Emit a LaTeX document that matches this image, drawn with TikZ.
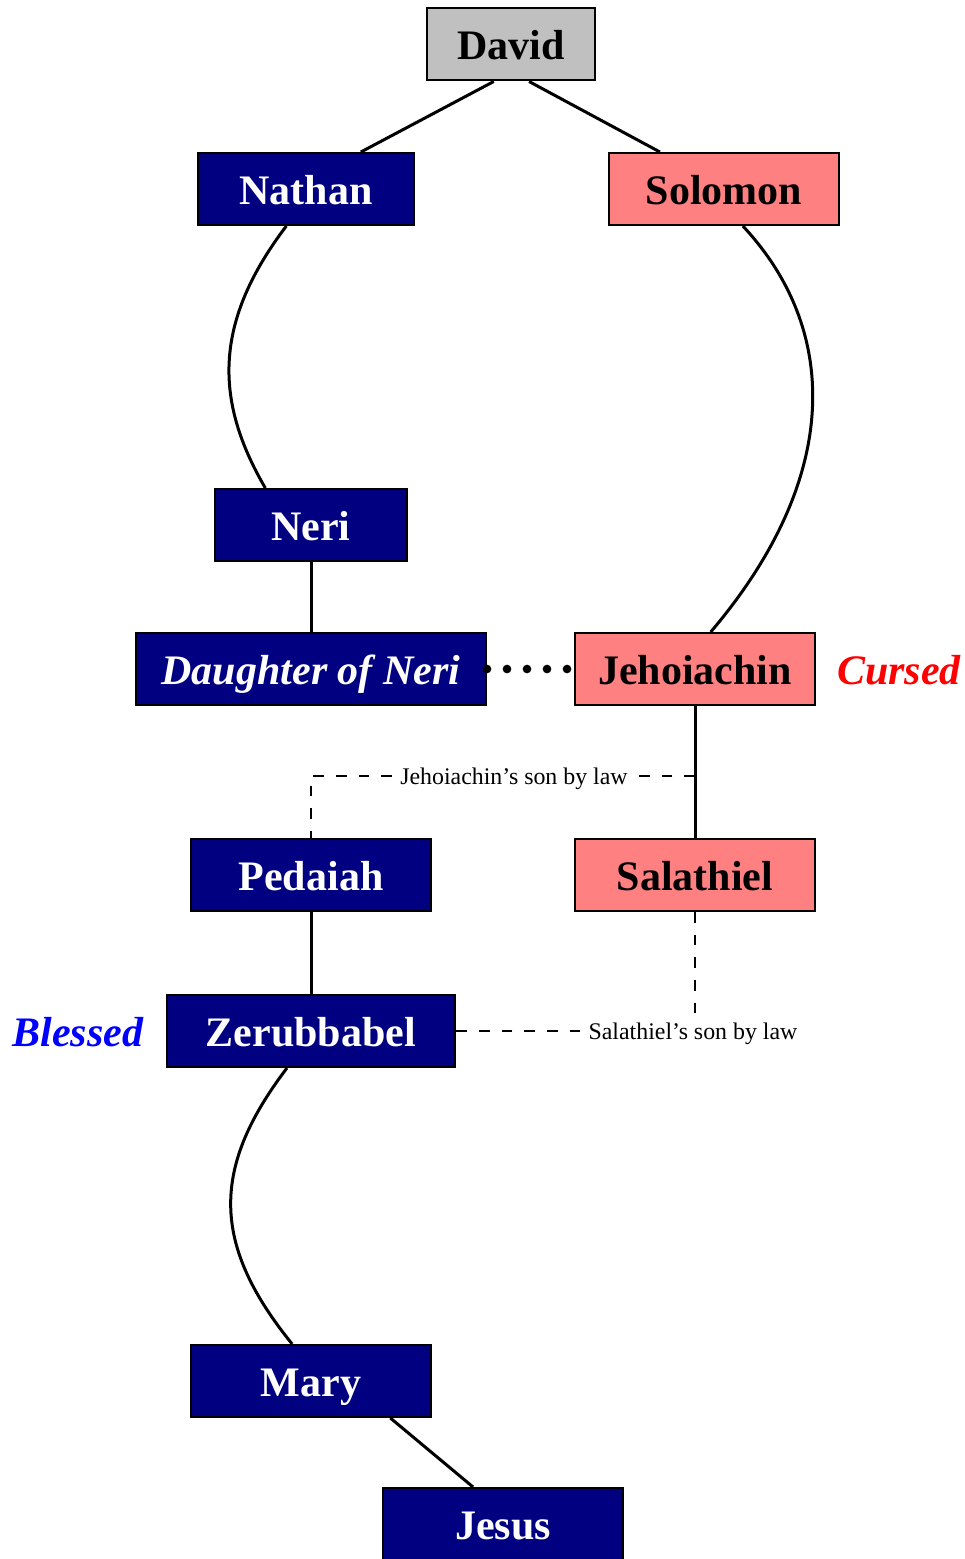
\documentclass[tikz,border=0pt]{standalone}
\usepackage{fontspec}
\setmainfont{Liberation Serif}
\usepackage{xcolor}
\usepackage{tikz}
\usetikzlibrary{
    positioning
}

\definecolor{lineNavy}{HTML}{000080}
\definecolor{linePink}{HTML}{FF8080}
\definecolor{rootGray}{HTML}{C0C0C0}

\begin{document}
\begin{tikzpicture}[
    x=0.75pt,
    y=-0.75pt,
    node_style/.style={
        draw=black,
        line width=1.5pt,
        minimum height=54pt,
        inner ysep=0pt,
        text height=23pt,
        text depth=0pt,
        font=\fontsize{31.5}{34}\selectfont\bfseries
    },
    nathan_line/.style={
        node_style,
        fill=lineNavy,
        text=white
    },
    solomon_line/.style={
        node_style,
        fill=linePink
    },
    side_label/.style={
        inner sep=0pt,
        text height=23pt,
        text depth=0pt,
        font=\fontsize{31.5}{34}\selectfont\bfseries\itshape
    },
    law_label/.style={
        inner xsep=6pt,
        inner ysep=3pt,
        text height=13pt,
        text depth=0pt,
        font=\fontsize{17.9}{20}\selectfont
    },
    edge_style/.style={
        draw=black,
        line width=2.25pt
    },
    law_edge/.style={
        edge_style,
        line width=2.1pt,
        dash pattern=on 8pt off 9pt
    }
]
\useasboundingbox (0,0) rectangle (964,1559);

% --- Nodes ---
\node[node_style, fill=rootGray, minimum width=126pt] (David) at (511,44.5) {David};
\node[nathan_line, minimum width=162pt] (Nathan) at (306,189) {Nathan};
\node[solomon_line, minimum width=172.5pt] (Solomon) at (724,189) {Solomon};
\node[nathan_line, minimum width=144pt] (Neri) at (311,525) {Neri};
\node[nathan_line, minimum width=262.5pt, font=\fontsize{31.5}{34}\selectfont\bfseries\itshape] (Daughter) at (311,669) {Daughter of Neri};
\node[solomon_line, minimum width=180pt] (Jehoiachin) at (695,669) {Jehoiachin};
\node[nathan_line, minimum width=180pt] (Pedaiah) at (311,875) {Pedaiah};
\node[solomon_line, minimum width=180pt] (Salathiel) at (695,875) {Salathiel};
\node[nathan_line, minimum width=216pt] (Zerubbabel) at (311,1031) {Zerubbabel};
\node[nathan_line, minimum width=180pt] (Mary) at (311,1381) {Mary};
\node[nathan_line, minimum width=180pt] (Jesus) at (503,1524) {Jesus};

% Side remarks
\node[side_label, red, right=15.75pt of Jehoiachin] (Cursed) {Cursed};
\node[side_label, blue, left=17pt of Zerubbabel] (Blessed) {Blessed};

% Legal sons
\node[law_label] (JehLaw) at (514,776) {Jehoiachin’s son by law};
\node[law_label] (SalLaw) at (693,1031) {Salathiel’s son by law};
\coordinate (JehJoin) at (695,776);

% --- Edges ---
\draw[edge_style] (David.245) -- (Nathan.34);
\draw[edge_style] (David.296) -- (Solomon.150);
\draw[edge_style] (Nathan.242) .. controls +(-72,95) and +(-52,-89) .. (Neri.141);
\draw[edge_style] (Solomon.297) .. controls +(98,105) and +(130,-153) .. (Jehoiachin.67);
\draw[edge_style] (Neri) -- (Daughter);
\draw[edge_style] (Jehoiachin) -- (Salathiel);
\draw[edge_style] (Pedaiah) -- (Zerubbabel);
\draw[edge_style] (Zerubbabel.237) .. controls +(-76,100) and +(-81,-100) .. (Mary.117);
\draw[edge_style] (Mary.335) -- (Jesus.129);

% Marriage
\draw[draw=black, line width=6.5pt, line cap=round, dash pattern=on 0pt off 15pt] (Daughter.east) -- (Jehoiachin.west);

% Sons by law
\draw[law_edge] (JehJoin) -- (JehLaw.east);
\draw[law_edge] (JehLaw.west) -| (Pedaiah.north);
\draw[law_edge] (Salathiel.south) -- (Salathiel.south |- SalLaw.north);
\draw[law_edge] (SalLaw.west) -- (Zerubbabel.east);

\end{tikzpicture}
\end{document}
